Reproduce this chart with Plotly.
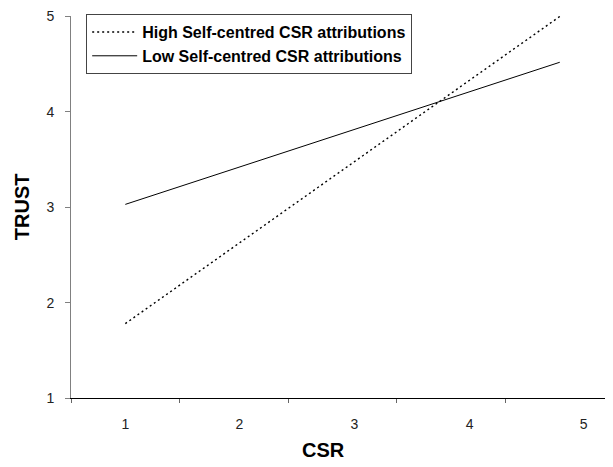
import plotly.graph_objects as go

# Data
csr_x = [1, 5]
high_trust = [1.78, 5.0]
low_trust = [3.03, 4.52]
series_names = ["High Self-centred CSR attributions", "Low Self-centred CSR attributions"]
x_tick_labels = ["1", "2", "3", "4", "5"]
x_label_pos = [1.0, 2.05, 3.11, 4.17, 5.22]
x_tick_marks = [0.5, 1.5, 2.5, 3.5, 4.5]
y_ticks = [1, 2, 3, 4, 5]

FONT = "Liberation Sans, Arial, sans-serif"

fig = go.Figure()
fig.add_trace(go.Scatter(
    x=csr_x, y=high_trust, mode="lines", name="<b>" + series_names[0] + "</b>",
    legendgroup="high",
    line=dict(color="black", width=1.4, dash="2px,3px"),
))
fig.add_trace(go.Scatter(
    x=csr_x, y=low_trust, mode="lines", name="<b>" + series_names[1] + "</b>",
    legendgroup="low",
    line=dict(color="black", width=1.0),
))

# the page body has an 8px margin, so the figure is offset by 8px
fig.update_layout(
    width=605, height=459,
    margin=dict(l=63, r=0, t=6, b=69),
    paper_bgcolor="white", plot_bgcolor="white",
    font=dict(family=FONT, color="black"),
    showlegend=True,
    legend=dict(
        x=0.028, y=1.005, xanchor="left", yanchor="top",
        bordercolor="#444", borderwidth=1, bgcolor="white",
        font=dict(family=FONT, size=16, color="black"),
        tracegroupgap=0, itemwidth=45,
    ),
    xaxis=dict(
        range=[0.5, 5.49], showgrid=False, zeroline=False,
        showline=True, linecolor="black", linewidth=1.3,
        tickmode="array", tickvals=x_label_pos, ticktext=x_tick_labels,
        ticks="", tickfont=dict(size=14, color="#222"),
        ticklabelstandoff=13,
        minor=dict(tickmode="array", tickvals=x_tick_marks, ticks="outside",
                   ticklen=4, tickcolor="#666", tickwidth=1),
    ),
    yaxis=dict(
        range=[1, 5.005], showgrid=False, zeroline=False,
        showline=True, linecolor="#808080", linewidth=1,
        tickmode="array", tickvals=y_ticks,
        ticks="outside", ticklen=5, tickcolor="#808080",
        tickfont=dict(size=14, color="#222"),
        ticklabelstandoff=8, ticklabeloverflow="allow",
    ),
    annotations=[
        dict(text="<b>CSR</b>", xref="paper", yref="paper", x=0.465, y=-0.135,
             xanchor="center", yanchor="middle", showarrow=False,
             font=dict(size=20, family=FONT, color="black")),
        dict(text="<b>TRUST</b>", xref="paper", yref="paper", x=-0.09, y=0.5,
             xanchor="center", yanchor="middle", showarrow=False, textangle=-90,
             font=dict(size=20, family=FONT, color="black")),
    ],
)

fig.write_html("out.html")
